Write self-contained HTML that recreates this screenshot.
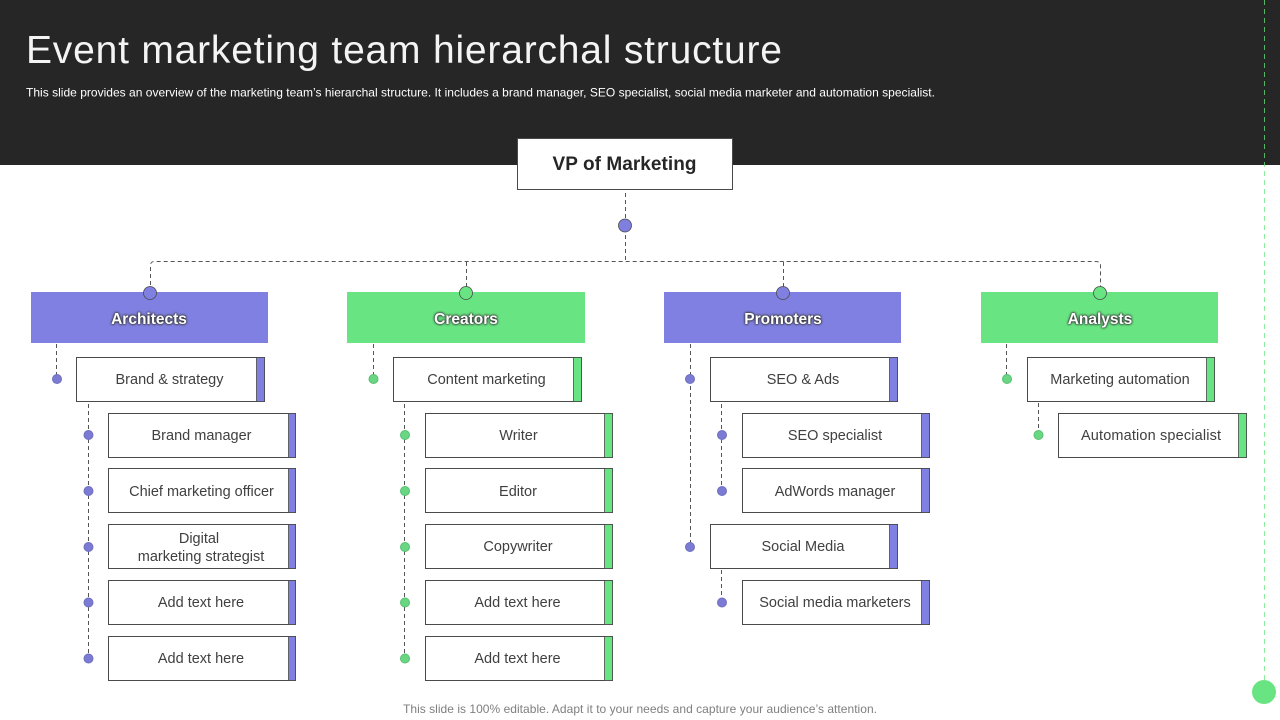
<!DOCTYPE html>
<html><head><meta charset="utf-8">
<style>
html,body{margin:0;padding:0;background:#fff;width:1280px;height:720px;overflow:hidden}
svg{display:block}
text{font-family:"Liberation Sans",sans-serif}
.t{font-size:14.500px;fill:#404040;text-anchor:middle}
.h{font-size:15.500px;font-weight:bold;fill:#fff;text-anchor:middle;filter:drop-shadow(0 0 1px #222) drop-shadow(0 0 1px #444)}
.b{fill:#fff;stroke:#4a4a4a;stroke-width:1}
.d{fill:none;stroke:#555;stroke-width:1;stroke-dasharray:4 3}
.pb{fill:#8080e2;stroke:#4a4a4a;stroke-width:.8}
.gb{fill:#68e582;stroke:#4a4a4a;stroke-width:.8}
.pd{fill:#7b7bd4;stroke:#7070c0;stroke-width:1}
.gd{fill:#68d683;stroke:#58c070;stroke-width:1}
</style></head><body>
<svg width="1280" height="720" viewBox="0 0 1280 720" xmlns="http://www.w3.org/2000/svg">
<rect x="0" y="0" width="1280" height="165" fill="#262626"/>
<line x1="1264.500" y1="0" x2="1264.500" y2="680" stroke="#68e582" stroke-opacity=".75" stroke-width="1" stroke-dasharray="5 4"/>
<circle cx="1264" cy="692" r="12" fill="#68e582"/>
<text x="26" y="63" font-size="39" fill="#f4f4f4" textLength="756" lengthAdjust="spacing">Event marketing team hierarchal structure</text>
<text x="26" y="96.500" font-size="12" fill="#fff" textLength="909" lengthAdjust="spacing">This slide provides an overview of the marketing team’s hierarchal structure. It includes a brand manager, SEO specialist, social media marketer and automation specialist.</text>

<rect x="517.500" y="138.500" width="215" height="51" class="b"/>
<text x="624.500" y="170" font-size="19" font-weight="bold" fill="#262626" text-anchor="middle" textLength="144" lengthAdjust="spacing">VP of Marketing</text>

<path class="d" d="M625.500 193V262"/>
<circle cx="625" cy="225.500" r="6.500" class="pb" style="fill:#7f7fe0"/>
<path class="d" d="M150.500 292V265.500Q150.500 261.500 154.500 261.500H1096Q1100.500 261.500 1100.500 265.500V292"/>
<path class="d" d="M466.500 262V292M783.500 262V292"/>

<rect x="31" y="292" width="237" height="51" fill="#8080e2"/>
<rect x="347" y="292" width="238" height="51" fill="#68e582"/>
<rect x="664" y="292" width="237" height="51" fill="#8080e2"/>
<rect x="981" y="292" width="237" height="51" fill="#68e582"/>
<circle cx="150" cy="293" r="6.500" class="pb"/>
<circle cx="466" cy="293" r="6.500" class="gb"/>
<circle cx="783" cy="293" r="6.500" class="pb"/>
<circle cx="1100" cy="293" r="6.500" class="gb"/>
<text x="149" y="324" class="h">Architects</text>
<text x="466" y="324" class="h">Creators</text>
<text x="783" y="324" class="h">Promoters</text>
<text x="1100" y="324" class="h">Analysts</text>

<!-- Column 1 -->
<path class="d" d="M56.500 344V378M88.500 404V658"/>
<circle cx="57" cy="379" r="4.500" class="pd"/>
<circle cx="88.500" cy="435" r="4.500" class="pd"/>
<circle cx="88.500" cy="491" r="4.500" class="pd"/>
<circle cx="88.500" cy="547" r="4.500" class="pd"/>
<circle cx="88.500" cy="602.500" r="4.500" class="pd"/>
<circle cx="88.500" cy="658.500" r="4.500" class="pd"/>
<rect x="76.500" y="357.500" width="188" height="44" class="b"/><rect x="256.500" y="357.500" width="8" height="44" class="pb"/>
<text x="169.500" y="384" class="t">Brand &amp; strategy</text>
<rect x="108.500" y="413.500" width="187" height="44" class="b"/><rect x="288.500" y="413.500" width="7" height="44" class="pb"/>
<text x="201.500" y="440" class="t">Brand manager</text>
<rect x="108.500" y="468.500" width="187" height="44" class="b"/><rect x="288.500" y="468.500" width="7" height="44" class="pb"/>
<text x="201.500" y="496" class="t">Chief marketing officer</text>
<rect x="108.500" y="524.500" width="187" height="44" class="b"/><rect x="288.500" y="524.500" width="7" height="44" class="pb"/>
<text x="199" y="543" class="t">Digital</text>
<text x="201" y="561" class="t">marketing strategist</text>
<rect x="108.500" y="580.500" width="187" height="44" class="b"/><rect x="288.500" y="580.500" width="7" height="44" class="pb"/>
<text x="201" y="607" class="t">Add text here</text>
<rect x="108.500" y="636.500" width="187" height="44" class="b"/><rect x="288.500" y="636.500" width="7" height="44" class="pb"/>
<text x="201" y="663" class="t">Add text here</text>

<!-- Column 2 -->
<path class="d" d="M373.500 344V378M404.500 404V658"/>
<circle cx="373.500" cy="379" r="4.500" class="gd"/>
<circle cx="405" cy="435" r="4.500" class="gd"/>
<circle cx="405" cy="491" r="4.500" class="gd"/>
<circle cx="405" cy="547" r="4.500" class="gd"/>
<circle cx="405" cy="602.500" r="4.500" class="gd"/>
<circle cx="405" cy="658.500" r="4.500" class="gd"/>
<rect x="393.500" y="357.500" width="188" height="44" class="b"/><rect x="573.500" y="357.500" width="8" height="44" class="gb"/>
<text x="486.500" y="384" class="t">Content marketing</text>
<rect x="425.500" y="413.500" width="187" height="44" class="b"/><rect x="604.500" y="413.500" width="8" height="44" class="gb"/>
<text x="518.500" y="440" class="t">Writer</text>
<rect x="425.500" y="468.500" width="187" height="44" class="b"/><rect x="604.500" y="468.500" width="8" height="44" class="gb"/>
<text x="518" y="496" class="t">Editor</text>
<rect x="425.500" y="524.500" width="187" height="44" class="b"/><rect x="604.500" y="524.500" width="8" height="44" class="gb"/>
<text x="518" y="551" class="t">Copywriter</text>
<rect x="425.500" y="580.500" width="187" height="44" class="b"/><rect x="604.500" y="580.500" width="8" height="44" class="gb"/>
<text x="517.500" y="607" class="t">Add text here</text>
<rect x="425.500" y="636.500" width="187" height="44" class="b"/><rect x="604.500" y="636.500" width="8" height="44" class="gb"/>
<text x="517.500" y="663" class="t">Add text here</text>

<!-- Column 3 -->
<path class="d" d="M690.500 344V546M721.500 404V490M721.500 570V601"/>
<circle cx="690" cy="379" r="4.500" class="pd"/>
<circle cx="722" cy="435" r="4.500" class="pd"/>
<circle cx="722" cy="491" r="4.500" class="pd"/>
<circle cx="690" cy="547" r="4.500" class="pd"/>
<circle cx="722" cy="602.500" r="4.500" class="pd"/>
<rect x="710.500" y="357.500" width="187" height="44" class="b"/><rect x="889.500" y="357.500" width="8" height="44" class="pb"/>
<text x="803" y="384" class="t">SEO &amp; Ads</text>
<rect x="742.500" y="413.500" width="187" height="44" class="b"/><rect x="921.500" y="413.500" width="8" height="44" class="pb"/>
<text x="835" y="440" class="t">SEO specialist</text>
<rect x="742.500" y="468.500" width="187" height="44" class="b"/><rect x="921.500" y="468.500" width="8" height="44" class="pb"/>
<text x="835" y="496" class="t">AdWords manager</text>
<rect x="710.500" y="524.500" width="187" height="44" class="b"/><rect x="889.500" y="524.500" width="8" height="44" class="pb"/>
<text x="803" y="551" class="t">Social Media</text>
<rect x="742.500" y="580.500" width="187" height="44" class="b"/><rect x="921.500" y="580.500" width="8" height="44" class="pb"/>
<text x="835" y="607" class="t">Social media marketers</text>

<!-- Column 4 -->
<path class="d" d="M1006.500 344V378M1038.500 403V434"/>
<circle cx="1007" cy="379" r="4.500" class="gd"/>
<circle cx="1038.500" cy="435" r="4.500" class="gd"/>
<rect x="1027.500" y="357.500" width="187" height="44" class="b"/><rect x="1206.500" y="357.500" width="8" height="44" class="gb"/>
<text x="1120" y="384" class="t">Marketing automation</text>
<rect x="1058.500" y="413.500" width="188" height="44" class="b"/><rect x="1238.500" y="413.500" width="8" height="44" class="gb"/>
<text x="1151" y="440" class="t" textLength="140" lengthAdjust="spacing">Automation specialist</text>

<text x="640" y="713" font-size="12" fill="#7f7f7f" text-anchor="middle" textLength="474" lengthAdjust="spacing">This slide is 100% editable. Adapt it to your needs and capture your audience’s attention.</text>
</svg>
</body></html>
